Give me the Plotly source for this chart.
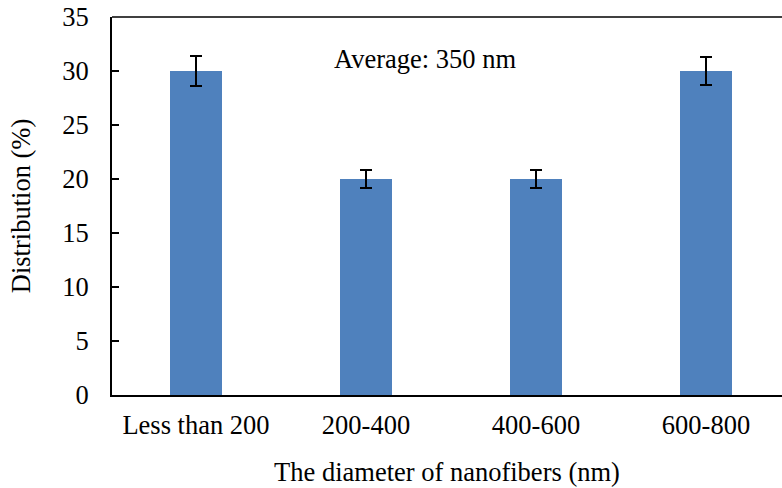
import plotly.graph_objects as go

categories = ["Less than 200", "200-400", "400-600", "600-800"]
distribution = [30, 20, 20, 30]
errors = [1.4, 0.8, 0.8, 1.3]
y_ticks = [0, 5, 10, 15, 20, 25, 30, 35]

FONT = "Liberation Serif, Times New Roman, serif"
FS = 26.5

fig = go.Figure()
fig.add_trace(go.Bar(
    x=list(range(len(categories))),
    y=distribution,
    width=0.31,
    marker=dict(color="#4F81BD", line=dict(width=0)),
    error_y=dict(type="data", array=errors, visible=True,
                 color="black", thickness=2, width=6),
))

fig.add_annotation(
    text="Average: 350 nm", x=1.347, y=31.1, xref="x", yref="y",
    showarrow=False, font=dict(family=FONT, size=FS, color="black"),
)

fig.update_layout(
    width=782, height=488,
    margin=dict(l=112, r=0, t=17, b=93),
    paper_bgcolor="white", plot_bgcolor="white",
    font=dict(family=FONT, size=FS, color="black"),
    showlegend=False,
    bargap=0,
)
fig.update_xaxes(
    range=[-0.494, 3.447],
    tickmode="array", tickvals=list(range(len(categories))), ticktext=categories,
    showline=True, linecolor="black", linewidth=2,
    mirror=False, showgrid=False, zeroline=False,
    ticks="outside", ticklen=5, tickcolor="rgba(0,0,0,0)",
    tickfont=dict(family=FONT, size=FS, color="black"),
    title=dict(text="The diameter of nanofibers (nm)", standoff=24,
               font=dict(family=FONT, size=FS, color="black")),
)
fig.update_yaxes(
    range=[0, 35], tickmode="array", tickvals=y_ticks,
    showline=True, linecolor="black", linewidth=2,
    showgrid=False, zeroline=False,
    ticks="inside", ticklen=7, tickwidth=2, tickcolor="black",
    ticklabelstandoff=16,
    tickfont=dict(family=FONT, size=FS, color="black"),
    title=dict(text="Distribution (%)", standoff=24,
               font=dict(family=FONT, size=FS, color="black")),
)
# top border line
fig.add_shape(type="line", xref="paper", yref="paper", x0=0, x1=1, y0=1, y1=1,
              line=dict(color="black", width=1.5))

fig.write_html("out.html")
